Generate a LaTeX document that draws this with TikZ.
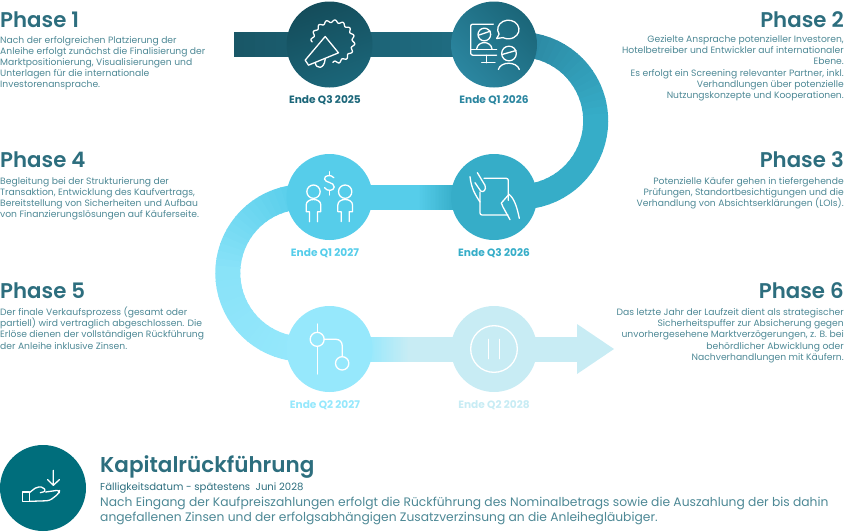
\documentclass[tikz,border=0pt]{standalone}
\usepackage{fontspec}
\usepackage{xcolor}
\usetikzlibrary{calc,backgrounds}
\setmainfont{Poppins}
\newfontfamily\semifont{Poppins SemiBold}
\definecolor{titlecol}{HTML}{2D6E7E}
\definecolor{textcol}{HTML}{4D8895}
\definecolor{stepone}{HTML}{1B6679}
\definecolor{steptwo}{HTML}{2B86A0}
\definecolor{stepthree}{HTML}{36ADC8}
\definecolor{stepfour}{HTML}{56CDEA}
\definecolor{stepfive}{HTML}{96E8FC}
\definecolor{stepsix}{HTML}{C8ECF4}
\definecolor{kapcol}{HTML}{006E7C}
\tikzset{
  stepnode/.style={circle, minimum size=86pt, inner sep=0pt},
  datelabel/.style={font=\fontsize{10.6}{12}\bfseries, anchor=base, inner sep=0pt},
  phasetitle/.style={font=\fontsize{21.3}{23}\semifont, text=titlecol, inner sep=0pt},
  phasetext/.style={font=\fontsize{9.2}{11.1}\selectfont, text=textcol, inner sep=0pt},
  iconline/.style={draw=white, line width=1.3pt, line cap=round, line join=round, x=.3333pt, y=-.3333pt},
}
% straight piece of the path, fading from #3 at (#1) to #4 at (#2)
\newcommand{\fadeband}[4]{%
  \foreach \i [evaluate=\i as \m using {100-\i*100/24}] in {0,...,24}{
    \fill[#3!\m!#4] ($(#1)!{\i/25}!(#2)+(0,-12.5)$) rectangle ($(#1)!{(\i+1.3)/25}!(#2)+(0,12.5)$);
  }%
}
% bend of the path round (#1), from angle #2 to angle #3 in 18 pieces
\newcommand{\fadebend}[5]{%
  \foreach \i [evaluate=\i as \m using {100-\i*100/17},
               evaluate=\i as \a using {#2+(#3-(#2))*\i/18},
               evaluate=\i as \e using {#2+(#3-(#2))*(\i+1.2)/18}] in {0,...,17}{
    \draw[#4!\m!#5, line width=25pt] (#1) ++(\a:76.2) arc[start angle=\a,end angle=\e,radius=76.2];
  }%
}
\begin{document}
\begin{tikzpicture}[x=1pt,y=-1pt]
\useasboundingbox (0,0) rectangle (844,531);
% steps
\node[stepnode, left color=stepone!75!black, right color=stepone, shading angle=20] (q325) at (329.5,44.5) {};
\node[stepnode, left color=stepone, right color=steptwo, shading angle=-45] (q126) at (494,44.5) {};
\node[stepnode, fill=stepthree] (q326) at (494,197) {};
\node[stepnode, fill=stepfour] (q127) at (329.5,197) {};
\node[stepnode, fill=stepfive] (q227) at (329.5,349) {};
\node[stepnode, fill=stepsix] (q228) at (494,349) {};
\node[stepnode, fill=kapcol] (kapital) at (43,488) {};
\coordinate (start) at (234,44.5);
\coordinate (bendright) at ($(q126.center)!.5!(q326.center)+(25.5,0)$);
\coordinate (bendleft) at ($(q127.center)!.5!(q227.center)+(-25.5,0)$);
\coordinate (fadefour) at (417,197);
\coordinate (fadethree) at ($(q326.west)+(6,0)$);
\coordinate (fadefive) at ($(q227.east)+(-6,0)$);
\coordinate (fadesix) at (410,349);
\coordinate (arrowbase) at (577,349);
\coordinate (arrowtip) at (614,349);

% path behind the steps
\begin{scope}[on background layer]
\fadeband{start}{q126.center}{stepone!65!black}{stepone!70!steptwo}
\fill[stepone!70!steptwo] ($(q126.center)+(0,-12.5)$) rectangle ($(bendright)+(0,-63.75)$);
\fadebend{bendright}{-90}{0}{steptwo}{stepthree}
\fadebend{bendright}{0}{90}{stepthree}{stepthree}
\fill[stepfour] ($(q127.center)+(0,-12.5)$) rectangle ($(fadefour)+(0,12.5)$);
\fadeband{fadefour}{fadethree}{stepfour}{stepthree}
\fadebend{bendleft}{-90}{-180}{stepfour}{stepfive!80!stepfour}
\fadebend{bendleft}{-180}{-270}{stepfive!80!stepfour}{stepfive}
\fadeband{fadefive}{fadesix}{stepfive}{stepsix}
\fill[stepsix] ($(fadesix)+(0,-12.5)$) rectangle ($(arrowbase)+(0,12.5)$);
\fill[stepsix] ($(arrowbase)+(0,-25)$) -- (arrowtip) -- ($(arrowbase)+(0,25)$) -- cycle;
\end{scope}

% date labels
\node[datelabel, text=stepone] (l1) at (325,103.5) {Ende Q3 2025};
\node[datelabel, text=steptwo] (l2) at (494,103.5) {Ende Q1 2026};
\node[datelabel, text=stepthree] (l3) at (494,256) {Ende Q3 2026};
\node[datelabel, text=stepfour] (l4) at (325,256) {Ende Q1 2027};
\node[datelabel, text=stepfive] (l5) at (325,408) {Ende Q2 2027};
\node[datelabel, text=stepsix] (l6) at (494,408) {Ende Q2 2028};

% icons
\begin{scope}[shift={(q325.center)}, iconline]
\draw plot[domain=-180:90, samples=130] ({10+(62+4*sin(16*\x))*cos(\x)},{-8+(62+4*sin(16*\x))*sin(\x)});
\draw (-73,47) -- (-13,-24) -- (27,25) -- (-63,62) -- cycle;
\draw (-43,54) .. controls (-40,75) and (-16,75) .. (-13,44);
\end{scope}
\begin{scope}[shift={(q126.center)}, iconline]
\draw[rounded corners=2pt] (-2,-61) -- (-70,-61) -- (-70,32) -- (8,32);
\draw (-70,14) -- (8,14);
\draw (-22,32) -- (-22,55) (-37,55) -- (3,55);
\draw (-29,-30) circle[radius=19];
\draw (-46,-28) -- (-11,-40);
\draw (-52,13) .. controls (-48,-12) and (-10,-12) .. (-6,13);
\draw (43,-45) ++(-27.7,14) arc[start angle=150,end angle=480,x radius=32,y radius=28] -- (8,-18) -- cycle;
\draw (45,27) circle[radius=22];
\draw (24,30) -- (66,18);
\draw (13,75) .. controls (20,50) and (68,50) .. (76,75);
\end{scope}
\begin{scope}[shift={(q326.center)}, iconline]
\draw[rounded corners=2pt] (-30,-56) -- (43,-56) -- (43,10) (42,54) -- (-42,54) -- (-42,-15);
\draw (-72,-61) .. controls (-68,-25) and (-55,-5) .. (-42,15);
\draw (-50,-73) -- (-27,-35) .. controls (-22,-22) and (-32,-12) .. (-40,-18) -- (-57,-43);
\draw (76,64) .. controls (70,35) and (62,5) .. (45,-8) -- (22,18) -- (27,30) -- (48,68);
\end{scope}
\begin{scope}[shift={(q127.center)}, iconline]
\foreach \dx in {0,95}{
  \draw (-48+\dx,-16) circle[radius=20];
  \draw (-60+\dx,74) -- (-60+\dx,44) -- (-70+\dx,44) -- (-70+\dx,24) .. controls (-70+\dx,2) and (-26+\dx,2) .. (-26+\dx,24) -- (-26+\dx,44) -- (-36+\dx,44) -- (-36+\dx,74);
}
\draw (13,-58) .. controls (5,-68) and (-16,-66) .. (-15,-54) .. controls (-14,-42) and (14,-46) .. (14,-30) .. controls (14,-18) and (-8,-16) .. (-15,-28);
\draw (-1,-76) -- (-1,-65) (-1,-18) -- (-1,-6);
\end{scope}
\begin{scope}[shift={(q227.center)}, iconline]
\draw (-37,-75) -- (-37,-50) (-37,-8) -- (-37,75);
\draw (-37,-29) circle[radius=21];
\draw[rounded corners=6pt] (-16,-29) -- (38,-29) -- (38,23);
\draw (38,43) circle[radius=20];
\end{scope}
\begin{scope}[shift={(q228.center)}, iconline]
\draw (0,0) circle[radius=70];
\draw (-17,-29) -- (-17,29) (17,-29) -- (17,29);
\end{scope}
\begin{scope}[shift={(kapital.center)}, iconline]
\draw (31,-53) -- (31,-8) (14,-25) -- (31,-8) -- (49,-25);
\draw (-61,12) rectangle (-41,40);
\draw[rounded corners=2pt] (-41,14) -- (-19,-3) -- (1,-3) -- (8,10) -- (-8,14);
\draw[rounded corners=3pt] (8,12) -- (50,6) -- (48,16) -- (20,38) -- (-41,40);
\end{scope}

% left column
\node[phasetitle, anchor=base west] (ph1) at (0,27) {Phase 1};
\node[phasetext, anchor=north west, align=left] (tx1) at (0,36) {Nach der erfolgreichen Platzierung der\\Anleihe erfolgt zunächst die Finalisierung der\\Marktpositionierung, Visualisierungen und\\Unterlagen für die internationale\\Investorenansprache.};
\node[phasetitle, anchor=base west] (ph4) at (0,167.5) {Phase 4};
\node[phasetext, anchor=north west, align=left] (tx4) at (0,177) {Begleitung bei der Strukturierung der\\Transaktion, Entwicklung des Kaufvertrags,\\Bereitstellung von Sicherheiten und Aufbau\\von Finanzierungslösungen auf Käuferseite.};
\node[phasetitle, anchor=base west] (ph5) at (0,298.5) {Phase 5};
\node[phasetext, anchor=north west, align=left] (tx5) at (0,307) {Der finale Verkaufsprozess (gesamt oder\\partiell) wird vertraglich abgeschlossen. Die\\Erlöse dienen der vollständigen Rückführung\\der Anleihe inklusive Zinsen.};
% right column
\node[phasetitle, anchor=base east] (ph2) at (844,27) {Phase 2};
\node[phasetext, anchor=north east, align=right] (tx2) at (844,35.5) {Gezielte Ansprache potenzieller Investoren,\\Hotelbetreiber und Entwickler auf internationaler\\Ebene.\\Es erfolgt ein Screening relevanter Partner, inkl.\\Verhandlungen über potenzielle\\Nutzungskonzepte und Kooperationen.};
\node[phasetitle, anchor=base east] (ph3) at (844,167.5) {Phase 3};
\node[phasetext, anchor=north east, align=right] (tx3) at (844,177) {Potenzielle Käufer gehen in tiefergehende\\Prüfungen, Standortbesichtigungen und die\\Verhandlung von Absichtserklärungen (LOIs).};
\node[phasetitle, anchor=base east] (ph6) at (844,298.5) {Phase 6};
\node[phasetext, anchor=north east, align=right] (tx6) at (844,308.5) {Das letzte Jahr der Laufzeit dient als strategischer\\Sicherheitspuffer zur Absicherung gegen\\unvorhergesehene Marktverzögerungen, z. B. bei\\behördlicher Abwicklung oder\\Nachverhandlungen mit Käufern.};
% bottom block
\node[phasetitle, font=\fontsize{21.5}{23}\semifont, anchor=base west] (kaptitle) at (100,472) {Kapitalrückführung};
\node[phasetext, font=\fontsize{10.1}{12}\selectfont, text=titlecol, anchor=base west] (kapdate) at (100,490) {Fälligkeitsdatum - spätestens\ \ Juni 2028};
\node[phasetext, font=\fontsize{12.3}{15}\selectfont, anchor=north west, align=left] (kaptext) at (100,497) {Nach Eingang der Kaufpreiszahlungen erfolgt die Rückführung des Nominalbetrags sowie die Auszahlung der bis dahin\\angefallenen Zinsen und der erfolgsabhängigen Zusatzverzinsung an die Anleihegläubiger.};
\end{tikzpicture}
\end{document}
